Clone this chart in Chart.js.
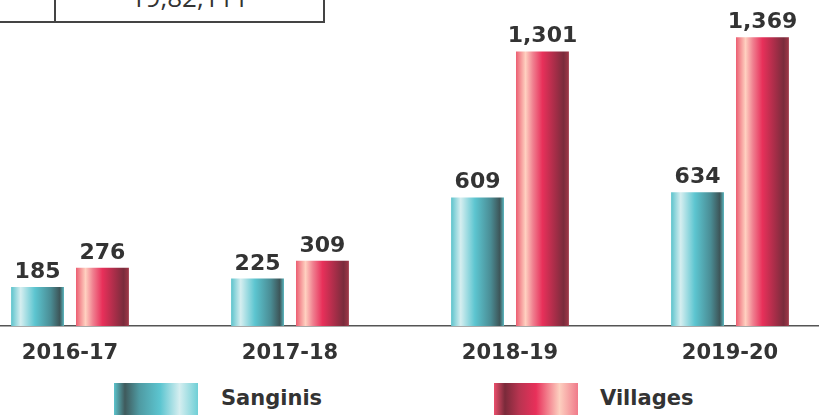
<!DOCTYPE html>
<html>
<head>
<meta charset="utf-8">
<script src="https://cdn.jsdelivr.net/npm/chart.js@4.4.1/dist/chart.umd.min.js"></script>
<style>
  html, body { margin: 0; padding: 0; background: #fff; }
  #stage { position: relative; width: 819px; height: 415px; overflow: hidden; font-family: "DejaVu Sans", sans-serif; }
  #plot { position: absolute; left: -40px; top: 0; width: 880px; height: 375px; }
  #total { position: absolute; left: -20px; top: -60px; width: 341px; height: 79px; border: 2px solid #444; }
  #total .cell { position: absolute; left: 72px; top: 0; bottom: 0; right: 0; border-left: 2px solid #444; }
  #total span { position: absolute; left: 0; right: 0; text-align: center; top: 42px; font: 26px/26px "Open Sans", sans-serif; color: #333; }
  .key { position: absolute; top: 383px; width: 84px; height: 40px; }
  .keytext { position: absolute; top: 383px; font: bold 21px/30px "DejaVu Sans", sans-serif; color: #333; }
</style>
</head>
<body>
<div id="stage">
  <div id="total"><div class="cell"><span>19,82,111</span></div></div>
  <div id="plot"><canvas id="myChart"></canvas></div>
  <div class="key" style="left:114px;background:linear-gradient(90deg,#5cc3cc 0%,#3f5a5c 13%,#4f9aa2 30%,#5cc5d0 55%,#d5eef0 78%,#6fcfd6 100%);"></div>
  <div class="keytext" style="left:221px;">Sanginis</div>
  <div class="key" style="left:494px;background:linear-gradient(90deg,#ea4f6c 0%,#7a2a3a 13%,#b83450 30%,#e8305a 50%,#fdd0c0 78%,#f07a8a 100%);"></div>
  <div class="keytext" style="left:600px;">Villages</div>
</div>
<script>
const years = ["2016-17", "2017-18", "2018-19", "2019-20"];
const sanginis = [185, 225, 609, 634];
const villages = [276, 309, 1301, 1369];
const seriesNames = ["Sanginis", "Villages"];

const catPct = 0.59;
const barPct = 0.815;

const sanginisStops = [[0, "#5cc3cc"], [0.18, "#d5eef0"], [0.45, "#5cc5d0"], [0.75, "#4a8c94"], [0.92, "#3d5558"], [1, "#5cbac2"]];
const villagesStops = [[0, "#ec5e72"], [0.18, "#ffd0c0"], [0.32, "#f08090"], [0.5, "#e8305a"], [0.9, "#7a2c3c"], [1, "#a03848"]];

function barFill(stops, side) {
  return function(ctx) {
    if (ctx.type !== "data") return stops[0][1];
    const xs = ctx.chart.scales.x;
    if (!xs) return stops[0][1];
    const catW = xs.width / years.length;
    const slot = catW * catPct / 2;
    const cx = xs.getPixelForValue(ctx.dataIndex) + side * slot / 2;
    const w = slot * barPct;
    if (!isFinite(cx) || !isFinite(w) || w <= 0) return stops[0][1];
    const g = ctx.chart.ctx.createLinearGradient(cx - w / 2, 0, cx + w / 2, 0);
    stops.forEach(s => g.addColorStop(s[0], s[1]));
    return g;
  };
}

const valueLabels = {
  id: "valueLabels",
  afterDatasetsDraw(chart) {
    const c = chart.ctx;
    c.save();
    c.font = "bold 22px 'DejaVu Sans', sans-serif";
    c.fillStyle = "#333";
    c.textAlign = "center";
    c.textBaseline = "alphabetic";
    chart.data.datasets.forEach((ds, i) => {
      chart.getDatasetMeta(i).data.forEach((bar, j) => {
        c.fillText(ds.data[j].toLocaleString("en-US"), bar.x, bar.y - 9);
      });
    });
    c.restore();
  }
};

const chart = new Chart("myChart", {
  type: "bar",
  data: {
    labels: years,
    datasets: [{
      label: seriesNames[0],
      data: sanginis,
      backgroundColor: barFill(sanginisStops, -1)
    }, {
      label: seriesNames[1],
      data: villages,
      backgroundColor: barFill(villagesStops, 1)
    }]
  },
  options: {
    responsive: true,
    maintainAspectRatio: false,
    animation: false,
    categoryPercentage: catPct,
    barPercentage: barPct,
    layout: {padding: 0},
    plugins: {
      legend: {display: false},
      tooltip: {enabled: false}
    },
    scales: {
      x: {
        grid: {display: false, drawTicks: false},
        border: {display: true, color: "#555", width: 1.5},
        ticks: {color: "#333", font: {family: "'DejaVu Sans'", size: 21, weight: "bold"}, padding: 15},
        afterFit: s => { s.height = 49; }
      },
      y: {
        display: false,
        min: 0,
        max: 1545
      }
    }
  },
  plugins: [valueLabels]
});
chart.update();
</script>
</body>
</html>
